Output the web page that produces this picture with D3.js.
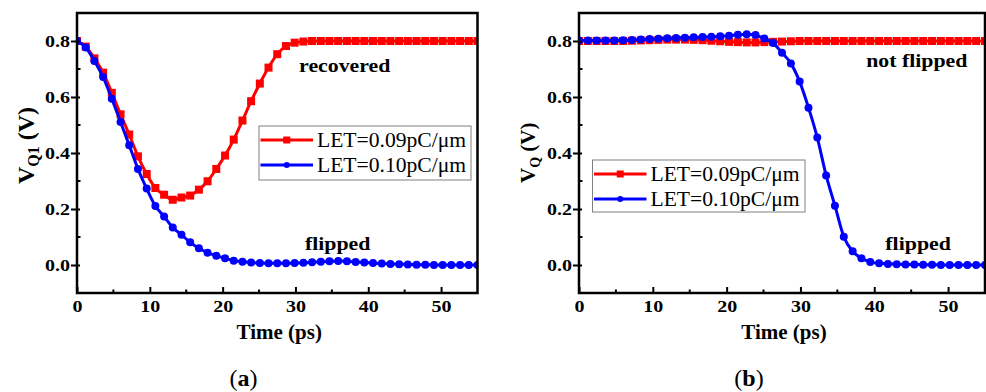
<!DOCTYPE html>
<html>
<head>
<meta charset="utf-8">
<script src="https://cdn.jsdelivr.net/npm/d3@7"></script>
<style>
  html, body { margin: 0; padding: 0; background: #fff; }
  svg { display: block; font-family: "Liberation Serif", "Times New Roman", Times, serif; }
</style>
</head>
<body>
<svg id="chart" width="986" height="392"></svg>
<script>
// Simulation time samples (ps)
const timePs = [0, 1.2, 2.39, 3.59, 4.78, 5.98, 7.17, 8.37, 9.57, 10.76, 11.96, 13.15, 14.35, 15.54,
  16.74, 17.93, 19.13, 20.33, 21.52, 22.72, 23.91, 25.11, 26.3, 27.5, 28.7, 29.89, 31.09, 32.28,
  33.48, 34.67, 35.87, 37.07, 38.26, 39.46, 40.65, 41.85, 43.04, 44.24, 45.43, 46.63, 47.83,
  49.02, 50.22, 51.41, 52.61, 53.8, 55];

// (a) V_Q1 node voltage (V)
const vq1Let009 = [0.80, 0.78, 0.738, 0.687, 0.615, 0.538, 0.466, 0.388, 0.325, 0.275, 0.251, 0.233,
  0.241, 0.248, 0.269, 0.299, 0.343, 0.391, 0.448, 0.516, 0.585, 0.648, 0.705, 0.753, 0.782, 0.794,
  0.798, 0.80, 0.80, 0.80, 0.80, 0.80, 0.80, 0.80, 0.80, 0.80, 0.80, 0.80, 0.80, 0.80, 0.80, 0.80,
  0.80, 0.80, 0.80, 0.80, 0.80];
const vq1Let010 = [0.80, 0.777, 0.729, 0.671, 0.594, 0.511, 0.428, 0.343, 0.273, 0.211, 0.173, 0.134,
  0.108, 0.081, 0.060, 0.044, 0.033, 0.024, 0.015, 0.012, 0.009, 0.007, 0.006, 0.006, 0.006, 0.007,
  0.008, 0.010, 0.012, 0.013, 0.014, 0.013, 0.011, 0.009, 0.007, 0.005, 0.004, 0.003, 0.002, 0.001,
  0.001, 0, 0, 0, 0, 0, 0];

// (b) V_Q node voltage (V)
const vqLet009 = [0.800, 0.800, 0.800, 0.800, 0.800, 0.800, 0.801, 0.802, 0.803, 0.804, 0.805, 0.805,
  0.805, 0.804, 0.803, 0.801, 0.799, 0.797, 0.796, 0.795, 0.795, 0.796, 0.797, 0.798, 0.799, 0.80,
  0.80, 0.80, 0.80, 0.80, 0.80, 0.80, 0.80, 0.80, 0.80, 0.80, 0.80, 0.80, 0.80, 0.80, 0.80, 0.80,
  0.80, 0.80, 0.80, 0.80, 0.80];
const vqLet010 = [0.802, 0.802, 0.802, 0.802, 0.802, 0.803, 0.804, 0.805, 0.807, 0.808, 0.810, 0.811,
  0.812, 0.813, 0.814, 0.815, 0.817, 0.819, 0.822, 0.824, 0.821, 0.809, 0.793, 0.758, 0.720, 0.655,
  0.562, 0.455, 0.320, 0.212, 0.101, 0.049, 0.024, 0.011, 0.006, 0.004, 0.003, 0.002, 0.002, 0.001,
  0.001, 0, 0, 0, 0, 0, 0];

const xMajorTicks = [0, 10, 20, 30, 40, 50];
const xMinorTicks = [5, 15, 25, 35, 45];
const yMajorTicks = [0, 0.2, 0.4, 0.6, 0.8];
const yMinorTicks = [0.1, 0.3, 0.5, 0.7];
const seriesLabels = ["LET=0.09pC/\u03bcm", "LET=0.10pC/\u03bcm"];
const seriesColors = ["#ff0000", "#0000ff"];
const xTitle = "Time (ps)";

const panels = [
  {
    tag: "a", box: { left: 77, right: 477.5, top: 13, bottom: 293 },
    yMain: "V", ySub: "Q1", yLabelX: 34, yLabelY: 184, yFont: 24, ySubFont: 16,
    series: [vq1Let009, vq1Let010],
    legend: { x: 259, y: 126, w: 212, h: 54 },
    notes: [{ text: "recovered", t: 30.5, v: 0.689 }, { text: "flipped", t: 31.3, v: 0.052 }],
    caption: 243.5
  },
  {
    tag: "b", box: { left: 579, right: 985, top: 13, bottom: 293 },
    yMain: "V", ySub: "Q", yLabelX: 535, yLabelY: 183, yFont: 21, ySubFont: 14,
    series: [vqLet009, vqLet010],
    legend: { x: 592.5, y: 160, w: 212.5, h: 52 },
    notes: [{ text: "not flipped", t: 38.9, v: 0.707 }, { text: "flipped", t: 41.5, v: 0.054 }],
    caption: 749
  }
];

const svg = d3.select("#chart");
const tickFont = 16, tickStretch = 1.25;

panels.forEach(p => {
  const b = p.box;
  const x = d3.scaleLinear().domain([0, 55]).range([b.left, b.right]);
  const y = d3.scaleLinear().domain([-0.1, 0.9]).range([b.bottom, b.top]);
  const g = svg.append("g");

  const clipId = "clip-" + p.tag;
  svg.append("clipPath").attr("id", clipId)
    .append("rect").attr("x", b.left).attr("y", b.top)
    .attr("width", b.right - b.left).attr("height", b.bottom - b.top);

  // Curves with markers
  const plot = g.append("g").attr("clip-path", `url(#${clipId})`);
  const line = d3.line().x(d => x(d[0])).y(d => y(d[1])).curve(d3.curveMonotoneX);
  p.series.forEach((vals, si) => {
    const pts = timePs.map((t, i) => [t, vals[i]]);
    plot.append("path").datum(pts).attr("d", line)
      .attr("fill", "none").attr("stroke", seriesColors[si]).attr("stroke-width", 3)
      .attr("stroke-linejoin", "round");
    if (si === 0) {
      plot.selectAll(null).data(pts).enter().append("rect")
        .attr("x", d => x(d[0]) - 4).attr("y", d => y(d[1]) - 4)
        .attr("width", 8).attr("height", 8).attr("fill", seriesColors[si]);
    } else {
      plot.selectAll(null).data(pts).enter().append("circle")
        .attr("cx", d => x(d[0])).attr("cy", d => y(d[1])).attr("r", 4)
        .attr("fill", seriesColors[si]);
    }
  });

  // Frame
  g.append("rect").attr("x", b.left).attr("y", b.top)
    .attr("width", b.right - b.left).attr("height", b.bottom - b.top)
    .attr("fill", "none").attr("stroke", "#000").attr("stroke-width", 2.5);

  // Bottom axis: inward ticks
  const xAxis = g.append("g").attr("transform", `translate(0,${b.bottom})`)
    .call(d3.axisBottom(x).tickValues(xMajorTicks).tickFormat(d3.format("d"))
      .tickSizeInner(-6).tickSizeOuter(0).tickPadding(8));
  xAxis.select(".domain").remove();
  xAxis.selectAll(".tick line").attr("stroke", "#000").attr("stroke-width", 2);
  xAxis.selectAll(".tick text").attr("font-size", tickFont).attr("font-weight", "bold")
    .attr("font-family", "Liberation Serif, Times New Roman, serif").attr("fill", "#000")
    .attr("transform", `scale(${tickStretch},1)`);
  g.selectAll(null).data(xMinorTicks).enter().append("line")
    .attr("x1", d => x(d)).attr("x2", d => x(d))
    .attr("y1", b.bottom).attr("y2", b.bottom - 3.5)
    .attr("stroke", "#000").attr("stroke-width", 2);

  // Left axis: major ticks cross the spine, minor ticks inward
  const labelGap = 7;
  const yAxis = g.append("g").attr("transform", `translate(${b.left},0)`)
    .call(d3.axisLeft(y).tickValues(yMajorTicks).tickFormat(d3.format(".1f"))
      .tickSizeInner(6).tickSizeOuter(0).tickPadding(1));
  yAxis.select(".domain").remove();
  yAxis.selectAll(".tick line").attr("x1", 3).attr("stroke", "#000").attr("stroke-width", 2);
  yAxis.selectAll(".tick text").attr("font-size", tickFont).attr("font-weight", "bold")
    .attr("font-family", "Liberation Serif, Times New Roman, serif").attr("fill", "#000")
    .attr("x", -labelGap / tickStretch)
    .attr("transform", `scale(${tickStretch},1)`);
  g.selectAll(null).data(yMinorTicks).enter().append("line")
    .attr("x1", b.left).attr("x2", b.left + 3.5)
    .attr("y1", d => y(d)).attr("y2", d => y(d))
    .attr("stroke", "#000").attr("stroke-width", 2);

  // Axis titles
  g.append("text").attr("x", (b.left + b.right) / 2 + 2).attr("y", 339)
    .attr("text-anchor", "middle").attr("font-size", 21).attr("font-weight", "bold")
    .text(xTitle);
  const yl = g.append("text")
    .attr("transform", `translate(${p.yLabelX},${p.yLabelY}) rotate(-90)`)
    .attr("text-anchor", "start").attr("font-size", p.yFont).attr("font-weight", "bold");
  yl.append("tspan").text(p.yMain);
  yl.append("tspan").attr("font-size", p.ySubFont).attr("dy", 5).text(p.ySub);
  yl.append("tspan").attr("dy", -5).text(" (V)");

  // Legend
  const L = p.legend;
  const lg = g.append("g");
  lg.append("rect").attr("x", L.x).attr("y", L.y).attr("width", L.w).attr("height", L.h)
    .attr("fill", "#fff").attr("stroke", "#808080").attr("stroke-width", 1);
  seriesLabels.forEach((lab, si) => {
    const ry = L.y + 14 + si * 25;
    const x0 = L.x + 1.5, x1 = L.x + 54;
    lg.append("line").attr("x1", x0).attr("x2", x1).attr("y1", ry).attr("y2", ry)
      .attr("stroke", seriesColors[si]).attr("stroke-width", 3);
    const mx = (x0 + x1) / 2;
    if (si === 0) {
      lg.append("rect").attr("x", mx - 3.5).attr("y", ry - 3.5).attr("width", 7).attr("height", 7)
        .attr("fill", seriesColors[si]);
    } else {
      lg.append("circle").attr("cx", mx).attr("cy", ry).attr("r", 3).attr("fill", seriesColors[si]);
    }
    lg.append("text").attr("transform", `translate(${L.x + 58},${ry + 7}) scale(1.08,1)`)
      .attr("font-size", 20).attr("fill", "#000").text(lab);
  });

  // Annotations
  p.notes.forEach(n => {
    g.append("text").attr("transform", `translate(${x(n.t)},${y(n.v)}) scale(1.12,1)`)
      .attr("font-size", 19.5).attr("font-weight", "bold").attr("fill", "#000").text(n.text);
  });

  // Panel caption
  const cap = g.append("text").attr("x", p.caption).attr("y", 386)
    .attr("text-anchor", "middle").attr("font-size", 24).attr("fill", "#000");
  cap.append("tspan").text("(");
  cap.append("tspan").attr("font-weight", "bold").text(p.tag);
  cap.append("tspan").text(")");
});
</script>
</body>
</html>
